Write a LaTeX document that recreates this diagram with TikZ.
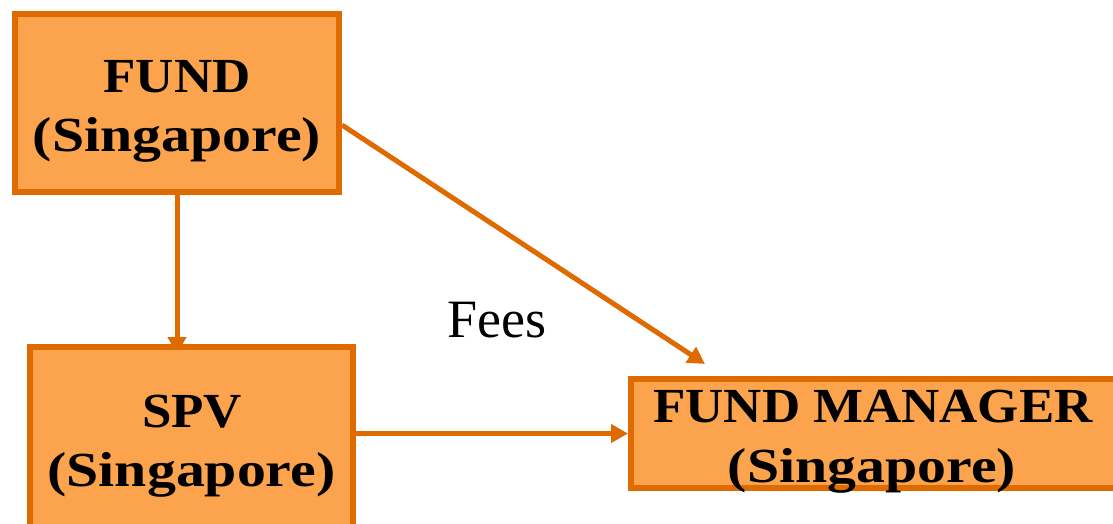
\documentclass[tikz,border=0pt]{standalone}
\usepackage{fontspec}
\setmainfont{Liberation Serif}
\newfontfamily\boxfont[FakeStretch=1.08]{Liberation Serif}
\newfontfamily\boxfontwide[FakeStretch=1.18]{Liberation Serif}
\usetikzlibrary{arrows.meta}
\definecolor{bordc}{RGB}{222,106,0}
\definecolor{fillc}{RGB}{252,164,77}
\pgfdeclarelayer{bg}
\pgfsetlayers{bg,main}
\tikzset{
  box/.style={draw=bordc, fill=fillc, line width=6pt, rectangle, inner sep=0pt},
  boxtext/.style={anchor=base, inner sep=0pt, font=\boxfont\bfseries\fontsize{49}{58}\selectfont},
  boxsub/.style={anchor=base, inner sep=0pt, font=\boxfontwide\bfseries\fontsize{49}{58}\selectfont},
  link/.style={draw=bordc, line width=5pt, -{Triangle[length=17pt,width=18pt]}},
  lbl/.style={anchor=base, inner sep=0pt, font=\fontsize{54}{62}\selectfont}
}
\begin{document}
\begin{tikzpicture}[x=1pt,y=-1pt]
\useasboundingbox (0,0) rectangle (1113,523);
\clip (0,0) rectangle (1113,523);
% boxes
\node[box, minimum width=324pt, minimum height=178pt] (fund) at (177,103) {};
\node[box, minimum width=323pt, minimum height=213pt] (spv) at (191.5,453.5) {};
\node[box, minimum width=494pt, minimum height=109pt] (fm) at (878,433.5) {};
% texts
\node[boxtext] (t1) at (177,92) {FUND};
\node[boxsub] (t2) at (177,151) {(Singapore)};
\node[boxtext] (t3) at (192,427) {SPV};
\node[boxsub] (t4) at (191.5,486) {(Singapore)};
\node[boxtext] (t5) at (873,422) {FUND MANAGER};
\node[boxsub] (t6) at (872,482) {(Singapore)};
\node[lbl] (fees) at (497,337) {Fees};
\coordinate (fmtip) at (705,364);
% connectors
\begin{pgfonlayer}{bg}
\draw[link] (fund.south) -- ([yshift=-10pt]fund.south |- spv.north);
\draw[link] ([yshift=-22pt]fund.east) -- (fmtip);
\draw[link] (spv.east |- fm.west) -- (fm.west);
\end{pgfonlayer}
\end{tikzpicture}
\end{document}
